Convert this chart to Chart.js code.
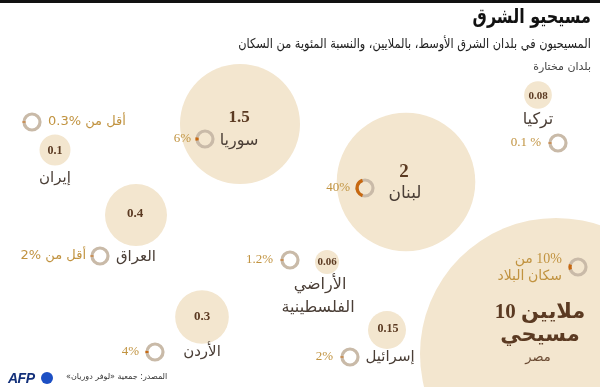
<!DOCTYPE html>
<html lang="ar">
<head>
<meta charset="utf-8">
<script src="https://cdn.jsdelivr.net/npm/chart.js@4/dist/chart.umd.min.js"></script>
<style>
  html, body { margin: 0; padding: 0; background: #fff; }
  #wrap { position: relative; width: 600px; height: 387px; overflow: hidden; font-family: "DejaVu Sans", sans-serif; }
  #topbar { position: absolute; left: 0; top: 0; width: 600px; height: 3px; background: #111; }
  canvas { position: absolute; left: 0; top: 0; }
  .txt { position: absolute; right: 9px; direction: rtl; white-space: nowrap; transform-origin: right center; }
  #title { top: 4px; font-size: 20px; font-weight: bold; color: #111; transform: scaleX(0.8); }
  #sub { top: 35px; font-size: 13.5px; color: #222; transform: scaleX(0.84); }
  #sel { top: 60px; font-size: 11px; color: #444; }
  #src { position: absolute; left: 66px; top: 372px; font-size: 8px; color: #333; direction: rtl; white-space: nowrap; }
  #afp { position: absolute; left: 8px; top: 370px; font: italic bold 14px "Liberation Sans", sans-serif; color: #13307a; letter-spacing: -0.5px; }
  #afpdot { position: absolute; left: 41px; top: 372px; width: 12px; height: 12px; border-radius: 50%; background: #1c4fc4; }
</style>
</head>
<body>
<div id="wrap">
  <canvas id="chart" width="600" height="387"></canvas>
  <div id="topbar"></div>
  <div class="txt" id="title">مسيحيو الشرق</div>
  <div class="txt" id="sub">المسيحيون في بلدان الشرق الأوسط، بالملايين، والنسبة المئوية من السكان</div>
  <div class="txt" id="sel">بلدان مختارة</div>
  <div id="afp">AFP</div><div id="afpdot"></div>
  <div id="src">المصدر: جمعية «لوفر دوريان»</div>
</div>
<script>
"use strict";

// data
const countries   = ['سوريا', 'لبنان', 'تركيا', 'إيران', 'العراق', 'الأراضي الفلسطينية', 'الأردن', 'إسرائيل', 'مصر'];
const millions    = [1.5, 2, 0.08, 0.1, 0.4, 0.06, 0.3, 0.15, 10];
const sharePct    = [6, 40, 0.1, 0.3, 2, 1.2, 4, 2, 10];
const valueLabels = [['1.5'], ['2'], ['0.08'], ['0.1'], ['0.4'], ['0.06'], ['0.3'], ['0.15'], ['10 ملايين', 'مسيحي']];
const nameLabels  = [['سوريا'], ['لبنان'], ['تركيا'], ['إيران'], ['العراق'], ['الأراضي', 'الفلسطينية'], ['الأردن'], ['إسرائيل'], ['مصر']];
const shareLabels = [['6%'], ['40%'], ['0.1 %'], ['أقل من 0.3%'], ['أقل من 2%'], ['1.2%'], ['4%'], ['2%'], ['10% من', 'سكان البلاد']];

// layout of the graphic (chart units = pixels of the 600x387 frame)
const spots = [
  {x: 240, y: 124, vx: 239, vy: 118, vs: 17, nx: 239, ny: 141, ns: 16, rx: 205, ry: 139, px: 191, pa: 'right'},
  {x: 406, y: 182, vx: 404, vy: 172, vs: 19, nx: 405, ny: 194, ns: 17, rx: 365, ry: 188, px: 350, pa: 'right'},
  {x: 538, y: 95,  vx: 538, vy: 96,  vs: 11, nx: 538, ny: 120, ns: 16, rx: 558, ry: 143, px: 541, pa: 'right'},
  {x: 55,  y: 150, vx: 55,  vy: 151, vs: 12, nx: 55,  ny: 178, ns: 15, rx: 32,  ry: 122, px: 48,  pa: 'left'},
  {x: 136, y: 215, vx: 135, vy: 214, vs: 13, nx: 136, ny: 257, ns: 15, rx: 100, ry: 256, px: 86,  pa: 'right'},
  {x: 327, y: 262, vx: 327, vy: 262, vs: 11, nx: 320, ny: 285, ns: 16, rx: 290, ry: 260, px: 273, pa: 'right'},
  {x: 202, y: 317, vx: 202, vy: 317, vs: 13, nx: 202, ny: 352, ns: 15, rx: 155, ry: 352, px: 139, pa: 'right'},
  {x: 387, y: 330, vx: 388, vy: 329, vs: 12, nx: 390, ny: 357, ns: 15, rx: 350, ry: 357, px: 333, pa: 'right'},
  {x: 556, y: 354, vx: 540, vy: 313, vs: 21, nx: 538, ny: 358, ns: 13, rx: 578, ry: 267, px: 562, pa: 'right'}
];

const bubbleScale = 49;   // px per sqrt(million)
const bubbleMax = 136;    // Egypt is cut down in the original
function bubbleRadius(v) { return Math.min(bubbleScale * Math.sqrt(v), bubbleMax); }

const labelPlugin = {
  id: 'labels',
  afterDatasetsDraw(chart) {
    const ctx = chart.ctx;
    const sx = chart.scales.x, sy = chart.scales.y;
    ctx.save();
    ctx.textBaseline = 'middle';
    countries.forEach(function(c, i) {
      const s = spots[i];
      const egypt = valueLabels[i].length > 1;

      // values
      ctx.fillStyle = '#5b3a22';
      ctx.textAlign = 'center';
      valueLabels[i].forEach(function(line, k) {
        ctx.direction = 'ltr';
        ctx.font = 'bold ' + s.vs + 'px "Liberation Serif", "DejaVu Sans", serif';
        ctx.fillText(line, sx.getPixelForValue(s.vx), sy.getPixelForValue(s.vy + k * 23));
      });

      // names
      ctx.fillStyle = egypt ? '#6a4a32' : '#4a3e36';
      ctx.direction = 'rtl';
      nameLabels[i].forEach(function(line, k) {
        ctx.font = s.ns + 'px "DejaVu Sans", sans-serif';
        ctx.fillText(line, sx.getPixelForValue(s.nx - k * 2), sy.getPixelForValue(s.ny + k * 23));
      });

      // share ring
      const rx = sx.getPixelForValue(s.rx), ry = sy.getPixelForValue(s.ry);
      ctx.lineWidth = 3.2;
      ctx.strokeStyle = '#c9baa8';
      ctx.beginPath();
      ctx.arc(rx, ry, 8, 0, Math.PI * 2);
      ctx.stroke();
      const span = Math.max(sharePct[i] / 100 * Math.PI * 2, 0.12);
      ctx.strokeStyle = '#c8680f';
      ctx.beginPath();
      ctx.arc(rx, ry, 8, Math.PI - span / 2, Math.PI + span / 2);
      ctx.stroke();

      // share text
      ctx.fillStyle = '#c19340';
      ctx.textAlign = s.pa;
      shareLabels[i].forEach(function(line, k) {
        const arabic = /[\u0600-\u06FF]/.test(line);
        let text = line;
        ctx.direction = arabic ? 'rtl' : 'ltr';
        // "أقل من x%" : lay the number out on the left explicitly
        const m = !egypt && line.match(/^(.*\S)\s+([\d.]+\s?%)$/);
        if (m) { text = m[2] + ' ' + m[1]; ctx.direction = 'ltr'; }
        ctx.font = arabic ? '13px "DejaVu Sans", sans-serif' : '13px "Liberation Serif", serif';
        if (egypt) ctx.font = '14px "Liberation Serif", "DejaVu Sans", serif';
        ctx.fillText(text, sx.getPixelForValue(s.px), sy.getPixelForValue(s.ry - (shareLabels[i].length - 1) * 8 + k * 17));
      });
    });
    ctx.restore();
  }
};

new Chart('chart', {
  type: 'bubble',
  data: {
    datasets: [{
      data: countries.map(function(c, i) {
        return {x: spots[i].x, y: spots[i].y, r: bubbleRadius(millions[i])};
      }),
      backgroundColor: '#f3e6cf',
      borderWidth: 0,
      hoverRadius: 0,
      clip: false
    }]
  },
  options: {
    responsive: false,
    animation: false,
    events: [],
    layout: { padding: 0, autoPadding: false },
    plugins: { legend: { display: false }, tooltip: { enabled: false } },
    scales: {
      x: { type: 'linear', min: 0, max: 600, display: false },
      y: { type: 'linear', min: 0, max: 387, reverse: true, display: false }
    }
  },
  plugins: [labelPlugin]
});
</script>
</body>
</html>
